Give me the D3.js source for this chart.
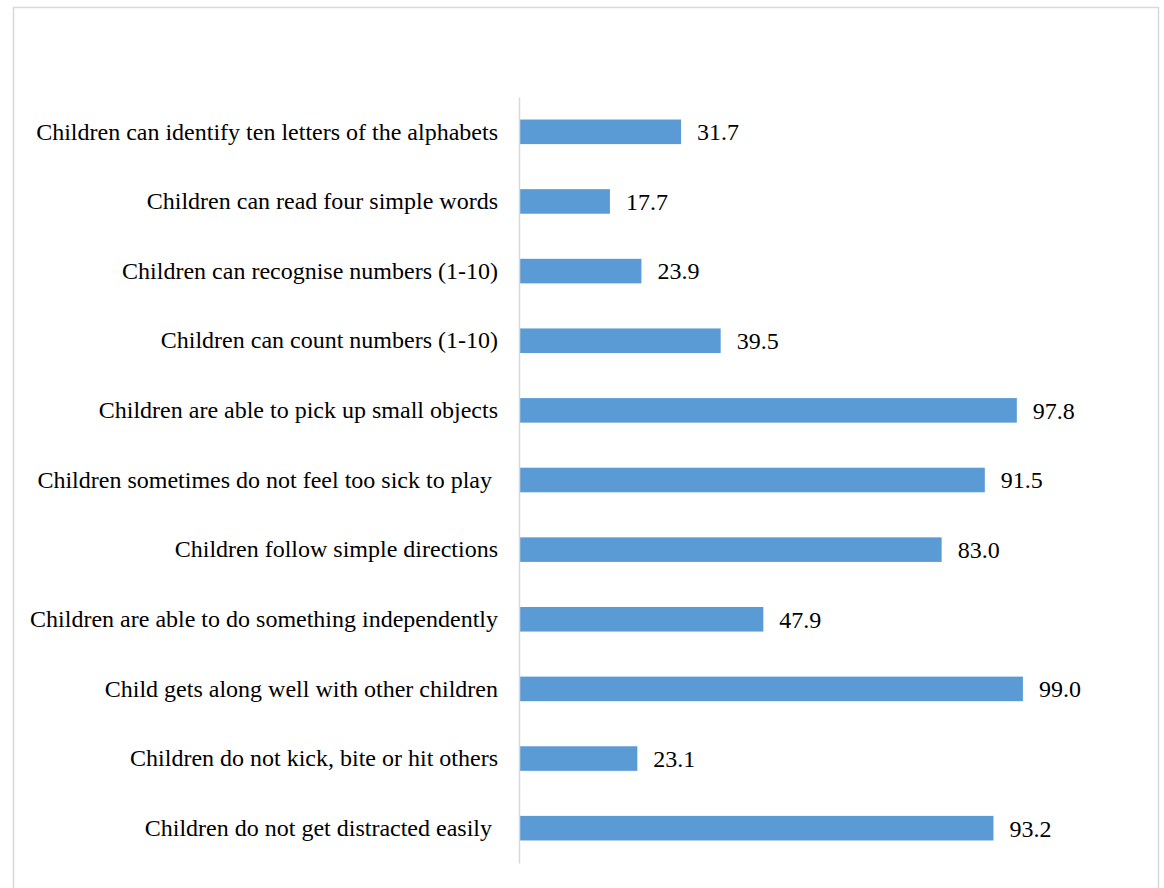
<!DOCTYPE html>
<html>
<head>
<meta charset="utf-8">
<script src="https://cdn.jsdelivr.net/npm/d3@7"></script>
<style>
  html, body { margin: 0; padding: 0; background: #fff; }
  svg { display: block; }
  text { font-family: "Liberation Serif", "Times New Roman", serif; white-space: pre; }
</style>
</head>
<body>
<svg id="chart" width="1164" height="888"></svg>
<script>
// Survey items (top to bottom) and share of children (%)
const categories = [
  "Children can identify ten letters of the alphabets",
  "Children can read four simple words",
  "Children can recognise numbers (1-10)",
  "Children can count numbers (1-10)",
  "Children are able to pick up small objects",
  "Children sometimes do not feel too sick to play ",
  "Children follow simple directions",
  "Children are able to do something independently",
  "Child gets along well with other children",
  "Children do not kick, bite or hit others",
  "Children do not get distracted easily "
];
const values = [31.7, 17.7, 23.9, 39.5, 97.8, 91.5, 83.0, 47.9, 99.0, 23.1, 93.2];

const svg = d3.select("#chart");

// Chart-area frame (bottom edge runs past the canvas)
svg.append("rect")
  .attr("x", 13.5).attr("y", 7.5)
  .attr("width", 1145).attr("height", 900)
  .attr("fill", "#fff")
  .attr("stroke", "#d9d9d9")
  .attr("stroke-width", 1.5);

const x = d3.scaleLinear().domain([0, 100]).range([520, 1028]);
const y = d3.scaleBand().domain(categories).range([97, 863]).paddingInner(0.647).paddingOuter(0.3235);

// Bars
svg.append("g").selectAll("rect")
  .data(values)
  .join("rect")
  .attr("x", x(0))
  .attr("y", (d, i) => y(categories[i]))
  .attr("width", d => x(d) - x(0))
  .attr("height", y.bandwidth())
  .attr("fill", "#5b9bd5");

// Category axis
const yAxis = svg.append("g")
  .attr("transform", `translate(${x(0) - 1},0)`)
  .call(d3.axisLeft(y).tickSize(0).tickPadding(21));
yAxis.select(".domain").attr("stroke", "#d9d9d9").attr("stroke-width", 1.5);
yAxis.selectAll(".tick text")
  .attr("font-size", 24)
  .attr("fill", "#000");

// Value labels
svg.append("g").selectAll("text")
  .data(values)
  .join("text")
  .attr("x", d => x(d) + 16)
  .attr("y", (d, i) => y(categories[i]) + y.bandwidth() / 2)
  .attr("dy", "0.35em")
  .attr("font-size", 24)
  .attr("fill", "#000")
  .text(d => d.toFixed(1));
</script>
</body>
</html>
